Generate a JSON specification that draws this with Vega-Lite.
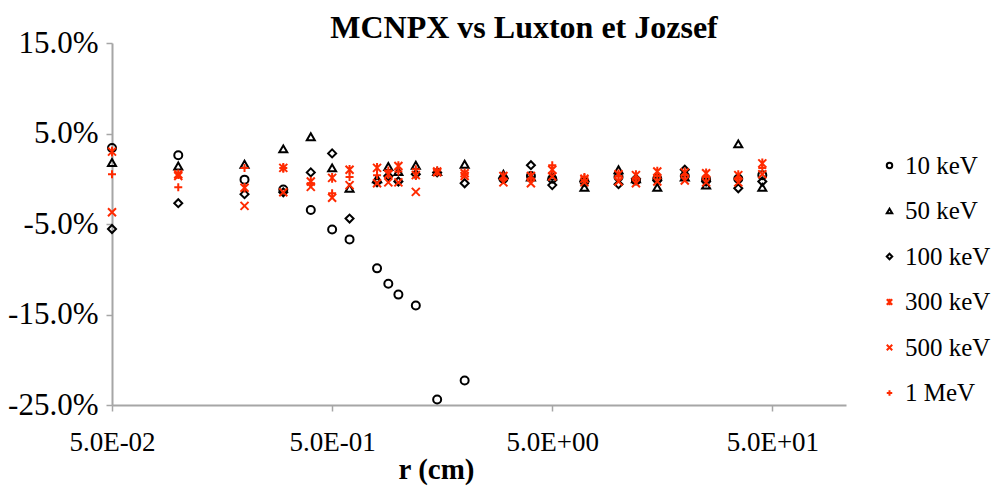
{
  "$schema": "https://vega.github.io/schema/vega-lite/v6.json",
  "width": 734,
  "height": 362,
  "autosize": {"type": "none"},
  "padding": {"left": 112, "top": 43, "right": 149, "bottom": 84},
  "background": "white",
  "title": {
    "text": "MCNPX vs Luxton et Jozsef",
    "font": "Liberation Serif",
    "fontSize": 32,
    "fontWeight": "bold",
    "color": "black",
    "anchor": "middle",
    "dx": 45,
    "dy": 22,
    "offset": 4
  },
  "config": {
    "view": {"stroke": null},
    "axis": {
      "grid": false,
      "domainColor": "#a6a6a6",
      "domainWidth": 2,
      "tickColor": "#a6a6a6",
      "tickWidth": 1.5,
      "tickSize": 6,
      "labelFont": "Liberation Serif",
      "labelFontSize": 27,
      "labelColor": "black",
      "titleFont": "Liberation Serif",
      "titleColor": "black"
    }
  },
  "data": {
    "values": [
      {"r": 0.05, "s": "10 keV", "v": 3.4}, {"r": 0.1, "s": "10 keV", "v": 2.6}, {"r": 0.2, "s": "10 keV", "v": -0.1}, {"r": 0.3, "s": "10 keV", "v": -1.2}, {"r": 0.4, "s": "10 keV", "v": -3.45}, {"r": 0.5, "s": "10 keV", "v": -5.6}, {"r": 0.6, "s": "10 keV", "v": -6.7}, {"r": 0.8, "s": "10 keV", "v": -9.9}, {"r": 0.9, "s": "10 keV", "v": -11.6}, {"r": 1.0, "s": "10 keV", "v": -12.8}, {"r": 1.2, "s": "10 keV", "v": -14.0}, {"r": 1.5, "s": "10 keV", "v": -24.4}, {"r": 2, "s": "10 keV", "v": -22.3}, {"r": 3, "s": "10 keV", "v": 0.0}, {"r": 4, "s": "10 keV", "v": 0.3}, {"r": 5, "s": "10 keV", "v": 0.0}, {"r": 7, "s": "10 keV", "v": -0.3}, {"r": 10, "s": "10 keV", "v": 0.2}, {"r": 12, "s": "10 keV", "v": -0.2}, {"r": 15, "s": "10 keV", "v": 0.0}, {"r": 20, "s": "10 keV", "v": 0.3}, {"r": 25, "s": "10 keV", "v": -0.1}, {"r": 35, "s": "10 keV", "v": 0.0}, {"r": 45, "s": "10 keV", "v": 0.4},
      {"r": 0.05, "s": "50 keV", "v": 1.8}, {"r": 0.1, "s": "50 keV", "v": 1.4}, {"r": 0.2, "s": "50 keV", "v": 1.6}, {"r": 0.3, "s": "50 keV", "v": 3.3}, {"r": 0.4, "s": "50 keV", "v": 4.65}, {"r": 0.5, "s": "50 keV", "v": 1.2}, {"r": 0.6, "s": "50 keV", "v": -1.05}, {"r": 0.8, "s": "50 keV", "v": 0.0}, {"r": 0.9, "s": "50 keV", "v": 1.35}, {"r": 1.0, "s": "50 keV", "v": 0.8}, {"r": 1.2, "s": "50 keV", "v": 1.5}, {"r": 1.5, "s": "50 keV", "v": 0.8}, {"r": 2, "s": "50 keV", "v": 1.6}, {"r": 3, "s": "50 keV", "v": 0.5}, {"r": 4, "s": "50 keV", "v": 0.2}, {"r": 5, "s": "50 keV", "v": 0.3}, {"r": 7, "s": "50 keV", "v": -0.95}, {"r": 10, "s": "50 keV", "v": 1.0}, {"r": 12, "s": "50 keV", "v": 0.0}, {"r": 15, "s": "50 keV", "v": -0.95}, {"r": 20, "s": "50 keV", "v": 0.2}, {"r": 25, "s": "50 keV", "v": -0.7}, {"r": 35, "s": "50 keV", "v": 3.85}, {"r": 45, "s": "50 keV", "v": -0.95},
      {"r": 0.05, "s": "100 keV", "v": -5.55}, {"r": 0.1, "s": "100 keV", "v": -2.7}, {"r": 0.2, "s": "100 keV", "v": -1.7}, {"r": 0.3, "s": "100 keV", "v": -1.5}, {"r": 0.4, "s": "100 keV", "v": 0.7}, {"r": 0.5, "s": "100 keV", "v": 2.8}, {"r": 0.6, "s": "100 keV", "v": -4.4}, {"r": 0.8, "s": "100 keV", "v": -0.4}, {"r": 0.9, "s": "100 keV", "v": 0.3}, {"r": 1.0, "s": "100 keV", "v": -0.3}, {"r": 1.2, "s": "100 keV", "v": 0.5}, {"r": 1.5, "s": "100 keV", "v": 0.7}, {"r": 2, "s": "100 keV", "v": -0.5}, {"r": 3, "s": "100 keV", "v": 0.0}, {"r": 4, "s": "100 keV", "v": 1.5}, {"r": 5, "s": "100 keV", "v": -0.7}, {"r": 7, "s": "100 keV", "v": -0.3}, {"r": 10, "s": "100 keV", "v": -0.6}, {"r": 12, "s": "100 keV", "v": 0.0}, {"r": 15, "s": "100 keV", "v": -0.2}, {"r": 20, "s": "100 keV", "v": 1.0}, {"r": 25, "s": "100 keV", "v": -0.3}, {"r": 35, "s": "100 keV", "v": -1.05}, {"r": 45, "s": "100 keV", "v": -0.3},
      {"r": 0.05, "s": "300 keV", "v": 3.0}, {"r": 0.1, "s": "300 keV", "v": 0.5}, {"r": 0.2, "s": "300 keV", "v": -1.0}, {"r": 0.3, "s": "300 keV", "v": 1.2}, {"r": 0.4, "s": "300 keV", "v": -0.3}, {"r": 0.5, "s": "300 keV", "v": 0.1}, {"r": 0.6, "s": "300 keV", "v": 1.0}, {"r": 0.8, "s": "300 keV", "v": 1.2}, {"r": 0.9, "s": "300 keV", "v": 0.5}, {"r": 1.0, "s": "300 keV", "v": 1.4}, {"r": 1.2, "s": "300 keV", "v": 0.4}, {"r": 1.5, "s": "300 keV", "v": 0.8}, {"r": 2, "s": "300 keV", "v": 0.6}, {"r": 3, "s": "300 keV", "v": 0.3}, {"r": 4, "s": "300 keV", "v": 0.3}, {"r": 5, "s": "300 keV", "v": 1.0}, {"r": 7, "s": "300 keV", "v": 0.0}, {"r": 10, "s": "300 keV", "v": 0.5}, {"r": 12, "s": "300 keV", "v": 0.4}, {"r": 15, "s": "300 keV", "v": 0.8}, {"r": 20, "s": "300 keV", "v": 0.7}, {"r": 25, "s": "300 keV", "v": 0.6}, {"r": 35, "s": "300 keV", "v": 0.4}, {"r": 45, "s": "300 keV", "v": 1.7},
      {"r": 0.05, "s": "500 keV", "v": -3.7}, {"r": 0.1, "s": "500 keV", "v": 0.3}, {"r": 0.2, "s": "500 keV", "v": -3.0}, {"r": 0.3, "s": "500 keV", "v": -1.5}, {"r": 0.4, "s": "500 keV", "v": -0.9}, {"r": 0.5, "s": "500 keV", "v": -2.1}, {"r": 0.6, "s": "500 keV", "v": -0.7}, {"r": 0.8, "s": "500 keV", "v": -0.5}, {"r": 0.9, "s": "500 keV", "v": -0.4}, {"r": 1.0, "s": "500 keV", "v": -0.4}, {"r": 1.2, "s": "500 keV", "v": -1.45}, {"r": 1.5, "s": "500 keV", "v": 0.7}, {"r": 2, "s": "500 keV", "v": 0.3}, {"r": 3, "s": "500 keV", "v": -0.4}, {"r": 4, "s": "500 keV", "v": -0.5}, {"r": 5, "s": "500 keV", "v": 0.25}, {"r": 7, "s": "500 keV", "v": -0.4}, {"r": 10, "s": "500 keV", "v": -0.3}, {"r": 12, "s": "500 keV", "v": -0.5}, {"r": 15, "s": "500 keV", "v": -0.3}, {"r": 20, "s": "500 keV", "v": -0.2}, {"r": 25, "s": "500 keV", "v": -0.4}, {"r": 35, "s": "500 keV", "v": -0.4}, {"r": 45, "s": "500 keV", "v": 0.5},
      {"r": 0.05, "s": "1 MeV", "v": 0.5}, {"r": 0.1, "s": "1 MeV", "v": -0.95}, {"r": 0.2, "s": "1 MeV", "v": 1.2}, {"r": 0.3, "s": "1 MeV", "v": 1.2}, {"r": 0.4, "s": "1 MeV", "v": -0.5}, {"r": 0.5, "s": "1 MeV", "v": -1.6}, {"r": 0.6, "s": "1 MeV", "v": 0.2}, {"r": 0.8, "s": "1 MeV", "v": 0.4}, {"r": 0.9, "s": "1 MeV", "v": 0.9}, {"r": 1.0, "s": "1 MeV", "v": 0.8}, {"r": 1.2, "s": "1 MeV", "v": 1.05}, {"r": 1.5, "s": "1 MeV", "v": 0.9}, {"r": 2, "s": "1 MeV", "v": 0.5}, {"r": 3, "s": "1 MeV", "v": 0.0}, {"r": 4, "s": "1 MeV", "v": 0.0}, {"r": 5, "s": "1 MeV", "v": 1.5}, {"r": 7, "s": "1 MeV", "v": 0.2}, {"r": 10, "s": "1 MeV", "v": 0.3}, {"r": 12, "s": "1 MeV", "v": 0.0}, {"r": 15, "s": "1 MeV", "v": 0.3}, {"r": 20, "s": "1 MeV", "v": 0.4}, {"r": 25, "s": "1 MeV", "v": 0.2}, {"r": 35, "s": "1 MeV", "v": 0.0}, {"r": 45, "s": "1 MeV", "v": 1.2}
    ]
  },
  "mark": {"type": "point", "filled": false, "strokeWidth": 2, "size": 64, "opacity": 1},
  "encoding": {
    "x": {
      "field": "r",
      "type": "quantitative",
      "scale": {"type": "log", "domain": [0.05, 108], "nice": false},
      "axis": {
        "values": [0.05, 0.5, 5, 50],
        "labelExpr": "datum.value < 0.1 ? '5.0E-02' : datum.value < 1 ? '5.0E-01' : datum.value < 10 ? '5.0E+00' : '5.0E+01'",
        "labelFont": "Liberation Serif",
        "labelFontSize": 27,
        "labelFlush": false,
        "labelPadding": 18,
        "title": "r (cm)",
        "titleFont": "Liberation Serif",
        "titleFontSize": 29,
        "titleFontWeight": "bold",
        "titleX": 324,
        "titleY": 73,
        "titleBaseline": "alphabetic"
      }
    },
    "y": {
      "field": "v",
      "type": "quantitative",
      "scale": {"domain": [-25, 15], "nice": false},
      "axis": {
        "values": [-25, -15, -5, 5, 15],
        "labelExpr": "(datum.value < 0 ? '-' : '') + format(abs(datum.value), '.1f') + '%'",
        "labelFont": "Liberation Serif",
        "labelFontSize": 31,
        "labelFlush": false,
        "labelPadding": 8,
        "title": null
      }
    },
    "shape": {
      "field": "s",
      "type": "nominal",
      "title": null,
      "scale": {
        "domain": ["10 keV", "50 keV", "100 keV", "300 keV", "500 keV", "1 MeV"],
        "range": ["circle", "triangle-up", "diamond", "M-1,-1L1,1M-1,1L1,-1M0,-1.2L0,1.2", "M-1,-1L1,1M-1,1L1,-1", "M-1,0L1,0M0,-1L0,1"]
      }
    },
    "color": {
      "field": "s",
      "type": "nominal",
      "title": null,
      "scale": {
        "domain": ["10 keV", "50 keV", "100 keV", "300 keV", "500 keV", "1 MeV"],
        "range": ["black", "black", "black", "#ff2a00", "#ff2a00", "#ff2a00"]
      },
      "legend": {
        "orient": "none",
        "legendX": 765,
        "legendY": 110,
        "padding": 0,
        "labelFont": "Liberation Serif",
        "labelFontSize": 25,
        "labelColor": "black",
        "labelOffset": 3,
        "symbolSize": 30,
        "symbolStrokeWidth": 2,
        "rowPadding": 19.5,
        "symbolType": "circle"
      }
    }
  }
}
